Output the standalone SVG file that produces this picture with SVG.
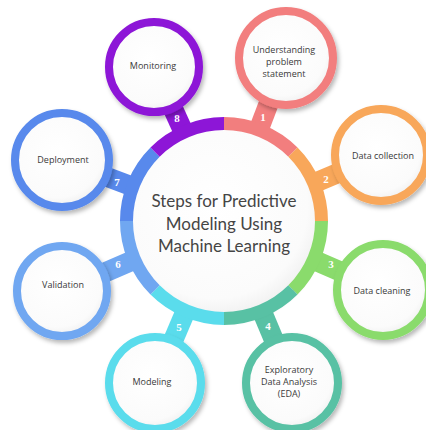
<svg xmlns="http://www.w3.org/2000/svg" width="426" height="430" viewBox="0 0 426 430">
  <defs>
    <filter id="shadow" x="-30%" y="-30%" width="160%" height="160%">
      <feDropShadow dx="2" dy="3" stdDeviation="2" flood-color="#000" flood-opacity="0.28"/>
    </filter>
    <radialGradient id="face" cx="45%" cy="42%" r="60%">
      <stop offset="0%" stop-color="#ffffff"/>
      <stop offset="80%" stop-color="#fbfbfb"/>
      <stop offset="100%" stop-color="#eeeeee"/>
    </radialGradient>
  </defs>
  <style>
    .ring { fill: url(#face); stroke-width: 8; filter: url(#shadow); }
    .neck { fill: none; stroke-width: 20; }
    .seg { fill: none; stroke-width: 13; }
    .lbl { font-family: "Open Sans", "DejaVu Sans", sans-serif; font-size: 9px; fill: #3a3a3a; text-anchor: middle; }
    .num { font-family: "Liberation Serif", serif; font-weight: bold; font-size: 11px; fill: #ffffff; text-anchor: middle; }
    .title { font-family: Lato, "Open Sans", sans-serif; font-size: 17px; fill: #454545; text-anchor: middle; }
    .c1 { stroke: #f27e7e; } .c2 { stroke: #f8a75a; } .c3 { stroke: #8adb6c; } .c4 { stroke: #58c1a4; }
    .c5 { stroke: #5adcec; } .c6 { stroke: #70a7f1; } .c7 { stroke: #5889ec; } .c8 { stroke: #8d16d7; }
  </style>

  <rect width="426" height="430" fill="#ffffff"/>

  <!-- stems joining each step bubble to the central ring -->
  <g id="connectors">
    <line class="neck c1" x1="224" y1="221" x2="286" y2="58"/>
    <line class="neck c2" x1="224" y1="221" x2="381" y2="155"/>
    <line class="neck c3" x1="224" y1="221" x2="383" y2="290"/>
    <line class="neck c4" x1="224" y1="221" x2="292" y2="383"/>
    <line class="neck c5" x1="224" y1="221" x2="155" y2="383"/>
    <line class="neck c6" x1="224" y1="221" x2="62" y2="291"/>
    <line class="neck c7" x1="224" y1="221" x2="62" y2="160"/>
    <line class="neck c8" x1="224" y1="221" x2="154" y2="67"/>
  </g>

  <!-- central hub: white disc with an eight-colour ring -->
  <g id="hub">
    <circle cx="224" cy="221" r="97" fill="url(#face)" filter="url(#shadow)"/>
    <path class="seg c1" d="M224 123.5 A97.5 97.5 0 0 1 292.94 152.06"/>
    <path class="seg c2" d="M292.94 152.06 A97.5 97.5 0 0 1 321.5 221"/>
    <path class="seg c3" d="M321.5 221 A97.5 97.5 0 0 1 292.94 289.94"/>
    <path class="seg c4" d="M292.94 289.94 A97.5 97.5 0 0 1 224 318.5"/>
    <path class="seg c5" d="M224 318.5 A97.5 97.5 0 0 1 155.06 289.94"/>
    <path class="seg c6" d="M155.06 289.94 A97.5 97.5 0 0 1 126.5 221"/>
    <path class="seg c7" d="M126.5 221 A97.5 97.5 0 0 1 155.06 152.06"/>
    <path class="seg c8" d="M155.06 152.06 A97.5 97.5 0 0 1 224 123.5"/>
    <text class="title" x="224" y="207">Steps for Predictive</text>
    <text class="title" x="224" y="229.5">Modeling Using</text>
    <text class="title" x="224" y="252">Machine Learning</text>
  </g>

  <g id="step1">
    <circle class="ring c1" cx="286" cy="58" r="47"/>
    <text class="lbl" x="284" y="53">Understanding</text>
    <text class="lbl" x="284" y="65">problem</text>
    <text class="lbl" x="284" y="77">statement</text>
    <text class="num" x="263" y="121">1</text>
  </g>
  <g id="step2">
    <circle class="ring c2" cx="381" cy="155" r="46"/>
    <text class="lbl" x="383" y="159">Data collection</text>
    <text class="num" x="326" y="183">2</text>
  </g>
  <g id="step3">
    <circle class="ring c3" cx="383" cy="290" r="46"/>
    <text class="lbl" x="382" y="294">Data cleaning</text>
    <text class="num" x="331" y="268">3</text>
  </g>
  <g id="step4">
    <circle class="ring c4" cx="292" cy="383" r="46"/>
    <text class="lbl" x="289" y="373">Exploratory</text>
    <text class="lbl" x="289" y="385">Data Analysis</text>
    <text class="lbl" x="289" y="397">(EDA)</text>
    <text class="num" x="268" y="330">4</text>
  </g>
  <g id="step5">
    <circle class="ring c5" cx="155" cy="383" r="46"/>
    <text class="lbl" x="152" y="385">Modeling</text>
    <text class="num" x="179" y="331">5</text>
  </g>
  <g id="step6">
    <circle class="ring c6" cx="62" cy="291" r="45"/>
    <text class="lbl" x="63" y="288">Validation</text>
    <text class="num" x="118" y="268">6</text>
  </g>
  <g id="step7">
    <circle class="ring c7" cx="62" cy="160" r="47"/>
    <text class="lbl" x="63" y="163">Deployment</text>
    <text class="num" x="117" y="186">7</text>
  </g>
  <g id="step8">
    <circle class="ring c8" cx="154" cy="67" r="45"/>
    <text class="lbl" x="153" y="69">Monitoring</text>
    <text class="num" x="177" y="122">8</text>
  </g>
</svg>
